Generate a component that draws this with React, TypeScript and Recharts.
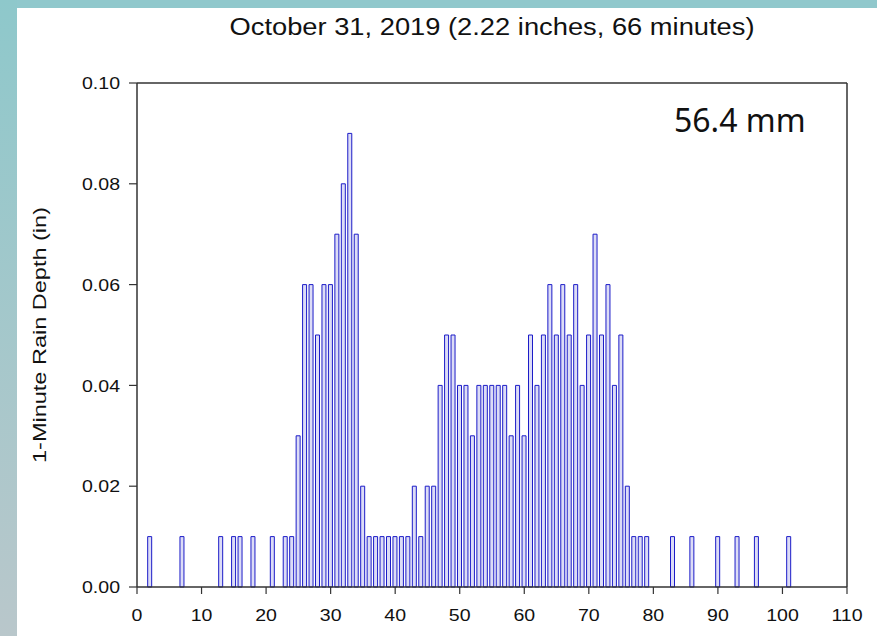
import React from "react";
import { BarChart, Bar, XAxis, YAxis, ReferenceLine } from "recharts";

// Rain recorded each minute (minute of storm, depth in inches)
const minutes = [
  2, 7, 13, 15, 16, 18, 21, 23, 24, 25, 26, 27, 28, 29, 30, 31, 32, 33, 34, 35,
  36, 37, 38, 39, 40, 41, 42, 43, 44, 45, 46, 47, 48, 49, 50, 51, 52, 53, 54,
  55, 56, 57, 58, 59, 60, 61, 62, 63, 64, 65, 66, 67, 68, 69, 70, 71, 72, 73,
  74, 75, 76, 77, 78, 79, 83, 86, 90, 93, 96, 101,
];
const depths = [
  0.01, 0.01, 0.01, 0.01, 0.01, 0.01, 0.01, 0.01, 0.01, 0.03, 0.06, 0.06, 0.05,
  0.06, 0.06, 0.07, 0.08, 0.09, 0.07, 0.02, 0.01, 0.01, 0.01, 0.01, 0.01, 0.01,
  0.01, 0.02, 0.01, 0.02, 0.02, 0.04, 0.05, 0.05, 0.04, 0.04, 0.03, 0.04, 0.04,
  0.04, 0.04, 0.04, 0.03, 0.04, 0.03, 0.05, 0.04, 0.05, 0.06, 0.05, 0.06, 0.05,
  0.06, 0.04, 0.05, 0.07, 0.05, 0.06, 0.04, 0.05, 0.02, 0.01, 0.01, 0.01, 0.01,
  0.01, 0.01, 0.01, 0.01, 0.01,
];

const xTicks = [0, 10, 20, 30, 40, 50, 60, 70, 80, 90, 100, 110];
const yTicks = [0, 0.02, 0.04, 0.06, 0.08, 0.1];

const title = "October 31, 2019 (2.22 inches, 66 minutes)";
const yLabel = "1-Minute Rain Depth (in)";
const totalMm = "56.4 mm";

const data = minutes.map((m, i) => ({ minute: m, depth: depths[i] }));

const FONT = "'Liberation Sans', Arial, sans-serif";
const AXIS = "#333333";

// tick labels come out a little wide in the original plot style
const YTick = (props: any) => {
  const { x, y, payload } = props;
  return (
    <g transform={`translate(${x},${y}) scale(1.15,1)`}>
      <text textAnchor="end" dy="0.36em" fontSize={17} fontFamily={FONT} fill="#111">
        {payload.value.toFixed(2)}
      </text>
    </g>
  );
};

const XTick = (props: any) => {
  const { x, y, payload } = props;
  return (
    <g transform={`translate(${x},${y}) scale(1.15,1)`}>
      <text textAnchor="middle" dy="0.71em" fontSize={17} fontFamily={FONT} fill="#111">
        {payload.value}
      </text>
    </g>
  );
};

const App: React.FC = () => {
  return (
    <div
      style={{
        position: "absolute",
        left: 0,
        top: 0,
        width: 877,
        height: 636,
        background: "#ffffff",
        overflow: "hidden",
      }}
    >
      <div
        style={{ position: "absolute", left: 0, top: 0, width: 877, height: 8, background: "#90c8cc" }}
      />
      <div
        style={{
          position: "absolute",
          left: 0,
          top: 0,
          width: 17,
          height: 636,
          background: "linear-gradient(#8ec8cb, #b9c7cb)",
        }}
      />
      <div style={{ position: "absolute", left: 0, top: 0 }}>
        <BarChart
          width={877}
          height={636}
          data={data}
          margin={{ top: 83, right: 30, bottom: 19, left: 17 }}
        >
          <XAxis
            dataKey="minute"
            type="number"
            domain={[0, 110]}
            ticks={xTicks}
            interval={0}
            height={30}
            tickSize={7}
            tickMargin={15}
            tick={<XTick />}
            axisLine={{ stroke: AXIS, strokeWidth: 1.5 }}
            tickLine={{ stroke: AXIS, strokeWidth: 1.2 }}
          />
          <YAxis
            type="number"
            domain={[0, 0.1]}
            ticks={yTicks}
            interval={0}
            width={120}
            tickSize={8}
            tickMargin={9}
            tick={<YTick />}
            axisLine={{ stroke: AXIS, strokeWidth: 1.5 }}
            tickLine={{ stroke: AXIS, strokeWidth: 1.2 }}
          />
          <ReferenceLine y={0.1} stroke={AXIS} strokeWidth={1.5} />
          <ReferenceLine x={110} stroke={AXIS} strokeWidth={1.5} />
          <Bar
            dataKey="depth"
            barSize={4}
            fill="#dcdcf6"
            stroke="#1c1cc8"
            strokeWidth={1}
            isAnimationActive={false}
          />
        </BarChart>
      </div>
      <svg
        width={877}
        height={636}
        style={{ position: "absolute", left: 0, top: 0, pointerEvents: "none" }}
      >
        <text
          x={492}
          y={35}
          textAnchor="middle"
          fontSize={23}
          fontFamily={FONT}
          fill="#111"
          textLength={525}
          lengthAdjust="spacingAndGlyphs"
        >
          {title}
        </text>
        <text
          transform="translate(46,335) rotate(-90)"
          textAnchor="middle"
          fontSize={18}
          fontFamily={FONT}
          fill="#111"
          textLength={256}
          lengthAdjust="spacingAndGlyphs"
        >
          {yLabel}
        </text>
        <text x={674} y={132} fontSize={32} fontFamily="'Noto Sans', sans-serif" fill="#111">
          {totalMm}
        </text>
      </svg>
    </div>
  );
};

export default App;
